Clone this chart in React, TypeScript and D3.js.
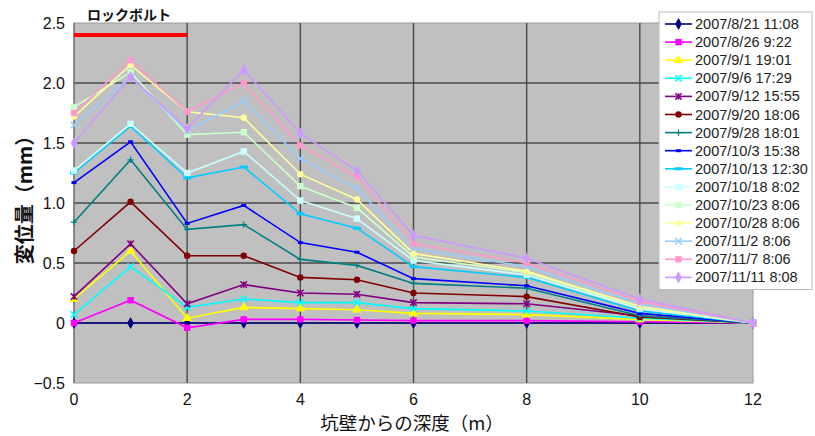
import * as d3 from 'd3'

// depth (m) along the x axis
const depths = [0, 1, 2, 3, 4, 5, 6, 8, 10, 12]

const seriesNames = [
  '2007/8/21 11:08',
  '2007/8/26 9:22',
  '2007/9/1 19:01',
  '2007/9/6 17:29',
  '2007/9/12 15:55',
  '2007/9/20 18:06',
  '2007/9/28 18:01',
  '2007/10/3 15:38',
  '2007/10/13 12:30',
  '2007/10/18 8:02',
  '2007/10/23 8:06',
  '2007/10/28 8:06',
  '2007/11/2 8:06',
  '2007/11/7 8:06',
  '2007/11/11 8:08',
]

const seriesColors = [
  '#000080', '#ff00ff', '#ffff00', '#00ffff', '#800080',
  '#800000', '#008080', '#0000ff', '#00ccff', '#ccffff',
  '#ccffcc', '#ffff99', '#99ccff', '#ff99cc', '#cc99ff',
]

const seriesMarkers = [
  'diamond', 'square', 'triangle', 'x', 'star',
  'circle', 'plus', 'dash', 'longdash', 'square',
  'square', 'circle', 'x', 'square', 'diamond',
]

// displacement (mm)
const s0 = [0, 0, 0, 0, 0, 0, 0, 0, 0, 0]
const s1 = [0, 0.19, -0.04, 0.03, 0.03, 0.025, 0.02, 0.02, 0.01, 0]
const s2 = [0.2, 0.6, 0.04, 0.13, 0.12, 0.11, 0.08, 0.07, 0.03, 0]
const s3 = [0.07, 0.47, 0.13, 0.2, 0.17, 0.17, 0.12, 0.1, 0.04, 0]
const s4 = [0.22, 0.66, 0.16, 0.32, 0.25, 0.24, 0.17, 0.16, 0.06, 0]
const s5 = [0.6, 1.01, 0.56, 0.56, 0.38, 0.36, 0.25, 0.22, 0.05, 0]
const s6 = [0.84, 1.36, 0.78, 0.82, 0.53, 0.48, 0.33, 0.29, 0.06, 0]
const s7 = [1.17, 1.51, 0.83, 0.98, 0.67, 0.59, 0.37, 0.31, 0.08, 0]
const s8 = [1.25, 1.64, 1.21, 1.3, 0.91, 0.79, 0.47, 0.38, 0.1, 0]
const s9 = [1.27, 1.66, 1.25, 1.43, 1.02, 0.87, 0.52, 0.4, 0.12, 0]
const s10 = [1.8, 2.09, 1.57, 1.59, 1.14, 0.96, 0.55, 0.42, 0.13, 0]
const s11 = [1.72, 2.15, 1.76, 1.71, 1.24, 1.03, 0.58, 0.43, 0.14, 0]
const s12 = [1.65, 2.05, 1.6, 1.85, 1.37, 1.12, 0.62, 0.47, 0.16, 0]
const s13 = [1.75, 2.19, 1.76, 2.0, 1.48, 1.22, 0.66, 0.5, 0.18, 0]
const s14 = [1.5, 2.05, 1.62, 2.11, 1.58, 1.27, 0.73, 0.54, 0.2, 0]
const seriesValues = [s0, s1, s2, s3, s4, s5, s6, s7, s8, s9, s10, s11, s12, s13, s14]

const xTicks = [0, 2, 4, 6, 8, 10, 12]
const yTicks = [-0.5, 0, 0.5, 1.0, 1.5, 2.0, 2.5]

// rock bolt range
const boltRange = [0, 2]
const boltLevel = 2.4

const width = 815
const height = 436
const marginLeft = 74
const marginRight = 62
const marginTop = 23
const marginBottom = 53

const numFont = '"Liberation Sans", Arial, sans-serif'
const jpFont = '"Noto Sans CJK JP", sans-serif'

function Marker({ kind, x, y, color }: { kind: string; x: number; y: number; color: string }) {
  const r = 3.2
  if (kind === 'diamond') {
    return <path d={d3.symbol(d3.symbolDiamond, 40)()!} transform={`translate(${x},${y})`} fill={color} />
  }
  if (kind === 'square') {
    return <rect x={x - r} y={y - r} width={r * 2} height={r * 2} fill={color} />
  }
  if (kind === 'triangle') {
    return <path d={d3.symbol(d3.symbolTriangle, 40)()!} transform={`translate(${x},${y})`} fill={color} />
  }
  if (kind === 'circle') {
    return <circle cx={x} cy={y} r={r} fill={color} />
  }
  if (kind === 'x') {
    return (
      <path d={`M${x - r},${y - r}L${x + r},${y + r}M${x - r},${y + r}L${x + r},${y - r}`} stroke={color} strokeWidth={1.5} />
    )
  }
  if (kind === 'star') {
    return (
      <path
        d={`M${x - r},${y - r}L${x + r},${y + r}M${x - r},${y + r}L${x + r},${y - r}M${x},${y - r}L${x},${y + r}`}
        stroke={color}
        strokeWidth={1.5}
      />
    )
  }
  if (kind === 'plus') {
    return <path d={`M${x - r},${y}L${x + r},${y}M${x},${y - r}L${x},${y + r}`} stroke={color} strokeWidth={1.2} />
  }
  if (kind === 'dash') {
    return <rect x={x - 2.5} y={y - 1.5} width={5} height={3} fill={color} />
  }
  // long dash
  return <rect x={x - 4} y={y - 1.5} width={8} height={3} fill={color} />
}

export default function App() {
  const x = d3.scaleLinear([0, 12], [marginLeft, width - marginRight])
  const y = d3.scaleLinear([-0.5, 2.5], [height - marginBottom, marginTop])

  const line = d3
    .line<number>()
    .x((_, i) => x(depths[i]))
    .y((d) => y(d))

  const legendX = 659
  const legendY = 12
  const rowH = 18.1

  return (
    <svg width={width} height={height} style={{ position: 'absolute', left: 0, top: 0, background: '#fff' }}>
      {/* plot area */}
      <rect
        x={x(0)}
        y={y(2.5)}
        width={x(12) - x(0)}
        height={y(-0.5) - y(2.5)}
        fill="#c0c0c0"
        stroke="#9a9a9a"
      />
      <g stroke="#4a4a4a" strokeWidth={1.4}>
        {yTicks
          .filter((t) => t > -0.5 && t < 2.5)
          .map((t) => (
            <line key={t} x1={x(0)} x2={x(12)} y1={y(t)} y2={y(t)} />
          ))}
        {xTicks
          .filter((t) => t > 0 && t < 12)
          .map((t) => (
            <line key={t} x1={x(t)} x2={x(t)} y1={y(2.5)} y2={y(-0.5)} />
          ))}
      </g>
      <line x1={x(0)} x2={x(0)} y1={y(2.5)} y2={y(-0.5)} stroke="#777" strokeWidth={1.5} />

      {/* rock bolt marker */}
      <line
        x1={x(boltRange[0])}
        x2={x(boltRange[1])}
        y1={y(boltLevel)}
        y2={y(boltLevel)}
        stroke="#ff0000"
        strokeWidth={4}
      />
      <text x={x(0) + 13} y={y(2.5) - 3} fontFamily={jpFont} fontSize={14} fontWeight="bold" fill="#111">
        ロックボルト
      </text>

      {/* series */}
      {seriesValues.map((vals, si) => (
        <g key={si}>
          <path d={line(vals)!} fill="none" stroke={seriesColors[si]} strokeWidth={1.6} />
          {vals.map((v, i) => (
            <Marker key={i} kind={seriesMarkers[si]} x={x(depths[i])} y={y(v)} color={seriesColors[si]} />
          ))}
        </g>
      ))}

      {/* axes tick labels */}
      <g fontFamily={numFont} fontSize={16} fill="#111">
        {yTicks.map((t) => (
          <text key={t} x={x(0) - 9} y={y(t) + 6} textAnchor="end">
            {t === 0 ? '0' : t < 0 ? '\u22120.5' : t.toFixed(1)}
          </text>
        ))}
        {xTicks.map((t) => (
          <text key={t} x={x(t)} y={y(-0.5) + 22} textAnchor="middle">
            {t}
          </text>
        ))}
      </g>
      <text x={412} y={430} textAnchor="middle" fontFamily={jpFont} fontSize={18.5} fill="#111">
        坑壁からの深度（m）
      </text>
      <text
        transform={`translate(32,195) rotate(-90)`}
        textAnchor="middle"
        fontFamily={jpFont}
        fontSize={20}
        fontWeight="bold"
        fill="#111"
      >
        変位量（mm）
      </text>

      {/* legend */}
      <rect
        x={legendX}
        y={legendY}
        width={width - legendX - 3}
        height={seriesNames.length * rowH + 6}
        fill="#fff"
        stroke="#bbb"
      />
      {seriesNames.map((name, i) => {
        const cy = legendY + 12 + i * rowH
        return (
          <g key={name}>
            <line x1={legendX + 6} x2={legendX + 33} y1={cy} y2={cy} stroke={seriesColors[i]} strokeWidth={1.6} />
            <Marker kind={seriesMarkers[i]} x={legendX + 19.5} y={cy} color={seriesColors[i]} />
            <text x={legendX + 36} y={cy + 5} fontFamily={numFont} fontSize={14.5} fill="#222">
              {name}
            </text>
          </g>
        )
      })}
    </svg>
  )
}
